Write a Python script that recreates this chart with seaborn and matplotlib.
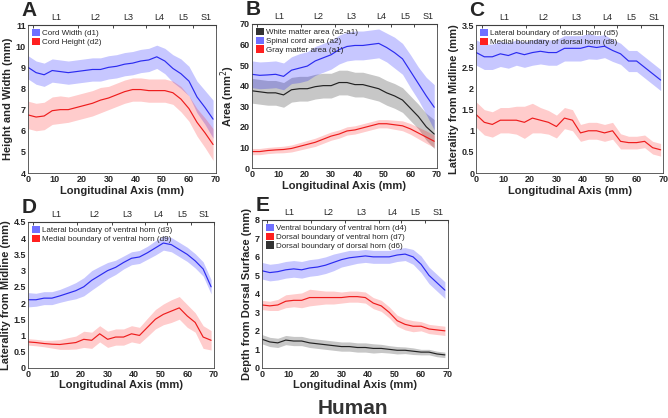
import matplotlib
matplotlib.use("Agg")
import matplotlib.pyplot as plt
from matplotlib.patches import Patch
import seaborn as sns
import pandas as pd

sns.set_style("white")
plt.rcParams['font.family'] = ['Liberation Sans', 'DejaVu Sans']

# longitudinal positions (mm)
x_mm = [0, 3, 6, 9, 12, 15, 18, 21, 24, 27, 30, 33, 36, 39, 42, 45, 48, 51, 54, 57, 60, 63, 66, 69]

# vertebral levels on the top axis
levels = ['L1', 'L2', 'L3', 'L4', 'L5', 'S1']
level_centres = [10.5, 25, 37.5, 49, 58, 66.5]
level_bounds = [2, 18.5, 31.5, 44, 52.5, 61.5, 70]

# A - cord width / height
d1_mean = [9.0, 8.75, 8.65, 8.85, 8.8, 8.75, 8.8, 8.85, 8.9, 8.9, 9.0, 9.05, 9.15, 9.2, 9.3, 9.35, 9.5, 9.3, 8.95, 8.7, 8.35, 7.6, 7.1, 6.55]
d1_sd = [0.55, 0.55, 0.55, 0.55, 0.55, 0.55, 0.55, 0.55, 0.55, 0.55, 0.55, 0.55, 0.55, 0.55, 0.55, 0.55, 0.55, 0.6, 0.65, 0.7, 0.7, 0.75, 0.8, 0.9]
d2_mean = [6.75, 6.65, 6.7, 6.95, 7.0, 7.0, 7.1, 7.2, 7.3, 7.45, 7.55, 7.7, 7.85, 7.95, 7.95, 7.9, 7.9, 7.9, 7.8, 7.5, 7.05, 6.4, 5.9, 5.35]
d2_sd = [0.65, 0.65, 0.65, 0.65, 0.65, 0.6, 0.6, 0.6, 0.6, 0.6, 0.55, 0.55, 0.55, 0.55, 0.55, 0.55, 0.55, 0.55, 0.55, 0.6, 0.6, 0.65, 0.7, 0.75]

# B - areas
a2_mean = [45.5, 45, 45.2, 45.5, 44.5, 47.5, 48.5, 49.5, 52, 53.5, 55, 57.5, 59, 59.5, 59.5, 60, 60.5, 58.5, 56, 53, 47, 41, 35, 29.5]
a2_sd = [6.5, 6.5, 6.5, 6.5, 6.5, 6.5, 7, 7, 7, 7, 7, 7, 7, 7, 7, 7, 7, 7, 7.5, 7.5, 8, 8, 9, 11]
wm_mean = [37.5, 37, 36.5, 36.5, 35.5, 38, 38.5, 38.5, 39.5, 40, 40, 41.5, 41.5, 40.5, 40.5, 39.5, 38.5, 36.5, 35, 33, 29, 25, 20, 16.5]
wm_sd = [6, 6, 6, 6, 6, 6, 6, 6, 6, 6, 6, 6, 6, 6, 6, 6, 6, 6, 6, 6, 6, 6, 6.5, 7]
a1_mean = [8, 8, 8.5, 8.8, 9, 9.5, 10.5, 11.5, 12.5, 14, 15.5, 16.5, 18, 18.5, 19.5, 20.5, 21.5, 21.5, 21, 20.5, 19, 17, 15, 13]
a1_sd = [1.5, 1.5, 1.5, 1.5, 1.6, 1.7, 1.8, 1.9, 2, 2, 2, 2, 2, 2, 2, 2, 2, 2, 2.2, 2.4, 2.6, 2.8, 3, 3]

# C - dorsal horn laterality
d5_mean = [2.85, 2.75, 2.75, 2.82, 2.78, 2.85, 2.8, 2.85, 2.88, 2.85, 2.85, 2.95, 2.95, 2.95, 3.0, 2.97, 3.0, 2.9, 2.82, 2.65, 2.65, 2.5, 2.35, 2.2]
d5_sd = [0.3, 0.3, 0.3, 0.3, 0.3, 0.3, 0.3, 0.3, 0.3, 0.3, 0.3, 0.3, 0.3, 0.3, 0.3, 0.28, 0.27, 0.26, 0.25, 0.25, 0.25, 0.25, 0.25, 0.25]
d8_mean = [1.38, 1.2, 1.15, 1.25, 1.25, 1.25, 1.2, 1.3, 1.25, 1.2, 1.1, 1.3, 1.25, 0.95, 1.0, 1.0, 0.95, 1.0, 0.75, 0.72, 0.72, 0.75, 0.6, 0.55]
d8_sd = [0.3, 0.3, 0.3, 0.3, 0.3, 0.33, 0.38, 0.35, 0.3, 0.28, 0.27, 0.25, 0.25, 0.2, 0.2, 0.2, 0.2, 0.2, 0.18, 0.15, 0.15, 0.15, 0.15, 0.15]

# D - ventral horn laterality
d3_mean = [2.1, 2.1, 2.15, 2.15, 2.22, 2.3, 2.38, 2.5, 2.7, 2.85, 3.0, 3.1, 3.25, 3.38, 3.42, 3.55, 3.7, 3.85, 3.8, 3.65, 3.5, 3.3, 3.05, 2.5]
d3_sd = [0.22, 0.2, 0.2, 0.2, 0.2, 0.22, 0.25, 0.28, 0.3, 0.28, 0.25, 0.22, 0.2, 0.2, 0.2, 0.2, 0.22, 0.22, 0.22, 0.22, 0.22, 0.22, 0.22, 0.22]
d9_mean = [0.8, 0.78, 0.75, 0.73, 0.72, 0.75, 0.78, 0.88, 0.85, 1.05, 0.88, 0.95, 0.95, 1.05, 1.0, 1.25, 1.5, 1.65, 1.75, 1.85, 1.6, 1.4, 0.95, 0.85]
d9_sd = [0.1, 0.1, 0.1, 0.12, 0.15, 0.18, 0.2, 0.25, 0.25, 0.25, 0.25, 0.25, 0.25, 0.25, 0.25, 0.28, 0.3, 0.32, 0.35, 0.35, 0.35, 0.3, 0.35, 0.3]

# E - depth from dorsal surface
d4_mean = [5.25, 5.15, 5.2, 5.3, 5.35, 5.3, 5.4, 5.45, 5.55, 5.7, 5.85, 5.95, 6.0, 6.05, 6.0, 6.0, 6.0, 6.1, 6.15, 6.0, 5.6, 5.0, 4.6, 4.2]
d4_sd = [0.45, 0.45, 0.45, 0.45, 0.45, 0.45, 0.45, 0.45, 0.45, 0.45, 0.4, 0.4, 0.35, 0.35, 0.35, 0.35, 0.35, 0.35, 0.35, 0.4, 0.45, 0.45, 0.45, 0.45]
d7_mean = [3.4, 3.35, 3.4, 3.6, 3.65, 3.65, 3.8, 3.8, 3.8, 3.8, 3.8, 3.85, 3.85, 3.8, 3.5, 3.35, 3.0, 2.55, 2.35, 2.25, 2.25, 2.1, 2.05, 2.0]
d7_sd = [0.25, 0.25, 0.3, 0.35, 0.35, 0.4, 0.45, 0.4, 0.35, 0.35, 0.3, 0.3, 0.3, 0.3, 0.3, 0.3, 0.3, 0.3, 0.3, 0.3, 0.25, 0.25, 0.25, 0.25]
d6_mean = [1.55, 1.4, 1.35, 1.5, 1.45, 1.45, 1.35, 1.3, 1.25, 1.2, 1.15, 1.15, 1.1, 1.1, 1.05, 1.05, 1.0, 0.95, 0.95, 0.9, 0.85, 0.85, 0.75, 0.7]
d6_sd = [0.25, 0.25, 0.25, 0.25, 0.25, 0.25, 0.25, 0.25, 0.25, 0.25, 0.25, 0.25, 0.25, 0.25, 0.25, 0.22, 0.2, 0.2, 0.18, 0.18, 0.15, 0.15, 0.15, 0.15]

BLUE = '#2b2bf0'
RED = '#ee1c1c'
BLACK = '#222222'
FILL = {BLUE: ('#0000ff', 0.22), RED: ('#ff0000', 0.2), BLACK: ('#000000', 0.22)}
LEG = {BLUE: '#7070ff', RED: '#ff2020', BLACK: '#333333'}

fig = plt.figure(figsize=(6.68, 4.18), dpi=100)


def panel(rect, letter, ylim, yticks, ylabel, series, legend_order):
    ax = fig.add_axes(rect)
    for mean, sd, col in series:
        lo = [m - s for m, s in zip(mean, sd)]
        hi = [m + s for m, s in zip(mean, sd)]
        fc, al = FILL[col]
        ax.fill_between(x_mm, lo, hi, color=fc, alpha=al, lw=0)
        df = pd.DataFrame({'x': x_mm, 'y': mean})
        sns.lineplot(data=df, x='x', y='y', ax=ax, color=col, lw=0.85)
    ax.set_xlim(0, 70)
    ax.set_ylim(*ylim)
    ax.set_xticks([0, 10, 20, 30, 40, 50, 60, 70])
    ax.set_yticks(yticks)
    ax.set_yticklabels(['{:g}'.format(t) for t in yticks])
    ax.tick_params(direction='in', length=2.5, width=0.6, labelsize=6.5, pad=1.5)
    for t in ax.get_xticklabels() + ax.get_yticklabels():
        t.set_fontweight('bold')
    ax.set_xlabel('Longitudinal Axis (mm)', fontsize=8, fontweight='bold', labelpad=1)
    ax.set_ylabel(ylabel, fontsize=8, fontweight='bold', labelpad=2)
    for s in ax.spines.values():
        s.set_linewidth(0.6)
        s.set_color('#444444')
    top = ax.secondary_xaxis('top')
    top.set_xticks(level_bounds)
    top.set_xticklabels([])
    top.set_xticks(level_centres, minor=True)
    top.set_xticklabels(levels, minor=True)
    top.tick_params(which='major', direction='in', length=2.5, width=0.6)
    top.tick_params(which='minor', length=0, labelsize=6.5, pad=2)
    handles = [Patch(facecolor=LEG[c], edgecolor='none', label=l) for c, l in legend_order]
    ax.legend(handles=handles, loc='upper left', frameon=False, fontsize=5.8,
              handlelength=1.0, handleheight=1.0, handletextpad=0.2,
              labelspacing=0.05, borderaxespad=0.3, borderpad=0.2)
    fig.text(rect[0] - 0.01, rect[1] + rect[3] + 0.012, letter, fontsize=15,
             fontweight='bold', va='bottom', ha='left')
    return ax


panel([0.042, 0.586, 0.281, 0.354], 'A', (4, 11), [4, 5, 6, 7, 8, 9, 10, 11],
      'Height and Width (mm)',
      [(d1_mean, d1_sd, BLUE), (d2_mean, d2_sd, RED)],
      [(BLUE, 'Cord Width (d1)'), (RED, 'Cord Height (d2)')])

panel([0.377, 0.598, 0.277, 0.345], 'B', (0, 70), [0, 10, 20, 30, 40, 50, 60, 70],
      'Area (mm$^2$)',
      [(wm_mean, wm_sd, BLACK), (a2_mean, a2_sd, BLUE), (a1_mean, a1_sd, RED)],
      [(BLACK, 'White matter area (a2-a1)'), (BLUE, 'Spinal cord area (a2)'),
       (RED, 'Gray matter area (a1)')])

panel([0.713, 0.586, 0.280, 0.354], 'C', (0, 3.5), [0, 0.5, 1, 1.5, 2, 2.5, 3, 3.5],
      'Laterality from Midline (mm)',
      [(d5_mean, d5_sd, BLUE), (d8_mean, d8_sd, RED)],
      [(BLUE, 'Lateral boundary of dorsal horn (d5)'), (RED, 'Medial boundary of dorsal horn (d8)')])

panel([0.042, 0.120, 0.278, 0.349], 'D', (0, 4.5), [0, 0.5, 1, 1.5, 2, 2.5, 3, 3.5, 4, 4.5],
      'Laterality from Midline (mm)',
      [(d3_mean, d3_sd, BLUE), (d9_mean, d9_sd, RED)],
      [(BLUE, 'Lateral boundary of ventral horn (d3)'), (RED, 'Medial boundary of ventral horn (d9)')])

panel([0.392, 0.120, 0.278, 0.354], 'E', (0, 8), [0, 1, 2, 3, 4, 5, 6, 7, 8],
      'Depth from Dorsal Surface (mm)',
      [(d4_mean, d4_sd, BLUE), (d7_mean, d7_sd, RED), (d6_mean, d6_sd, BLACK)],
      [(BLUE, 'Ventral boundary of ventral horn (d4)'), (RED, 'Dorsal boundary of ventral horn (d7)'),
       (BLACK, 'Dorsal boundary of dorsal horn (d6)')])

fig.text(0.528, 0.0, 'Human', fontsize=15, fontweight='bold', color='#333333',
         ha='center', va='bottom')

fig.savefig('out.png', dpi=100)
